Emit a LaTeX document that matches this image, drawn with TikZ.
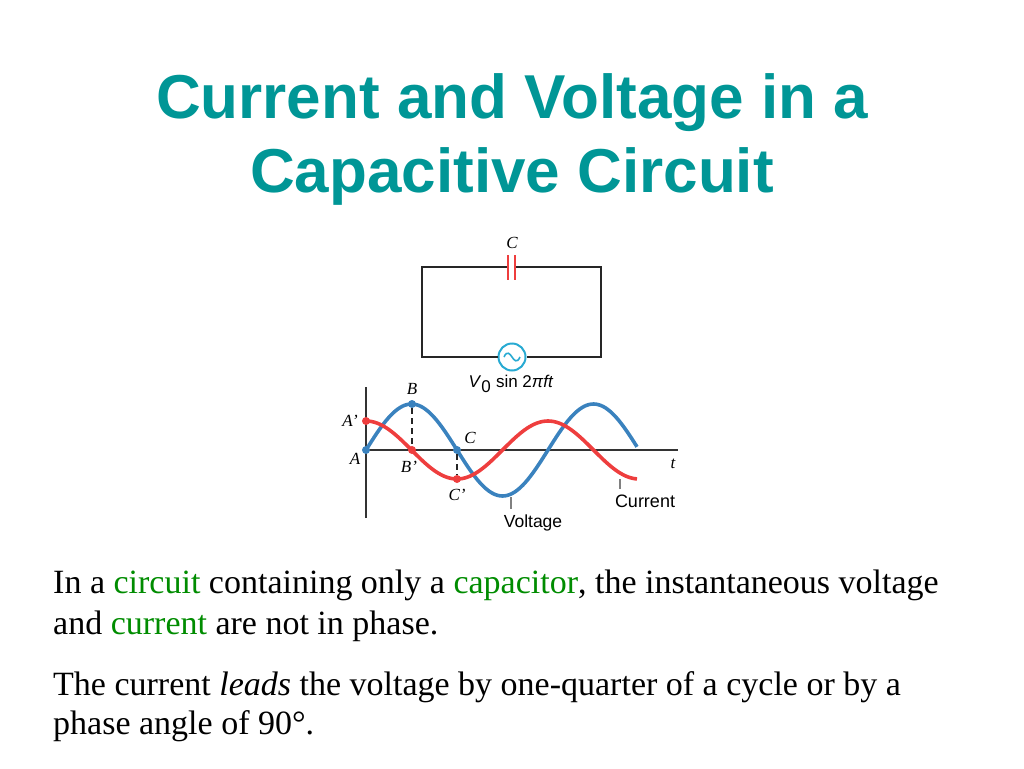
\documentclass[tikz,border=0pt]{standalone}
\usepackage{fontspec}
\setmainfont{Liberation Serif}
\setsansfont{Liberation Sans}
\usetikzlibrary{positioning}
\definecolor{titleteal}{RGB}{0,150,150}
\definecolor{wordgreen}{RGB}{0,140,0}
\definecolor{voltblue}{RGB}{58,130,190}
\definecolor{currred}{RGB}{238,62,62}
\definecolor{srccyan}{RGB}{40,170,210}
\newcommand{\lbl}[1]{\fontsize{17}{19}\selectfont\itshape #1}
\tikzset{
  wire/.style={line width=2.2pt, black!85},
  axis/.style={line width=2.6pt, black!80},
  dot/.style={circle, fill=#1, inner sep=0pt, minimum size=8pt},
  tick/.style={line width=1.2pt, black!50},
}

\begin{document}
\begin{tikzpicture}[x=1pt, y=-1pt]
        \useasboundingbox (0,0) rectangle (1024,768);
        % title
        \node[anchor=base, text=titleteal, font=\sffamily\bfseries\fontsize{62}{74}\selectfont] (T1) at (512,118) {Current and Voltage in a};
        \node[anchor=base, text=titleteal, font=\sffamily\bfseries\fontsize{62}{74}\selectfont] (T2) at (512,192) {Capacitive Circuit};
        % circuit
        \coordinate (LT) at (422,267);
        \coordinate (RT) at (601,267);
        \coordinate (LB) at (422,357);
        \coordinate (RB) at (601,357);
        \coordinate (CL) at (508,267);
        \coordinate (CR) at (515,267);
        \node[circle, draw=srccyan, line width=2pt, minimum size=27pt, inner sep=0pt] (S) at (512,357) {};
        \draw [srccyan, line width=1.6pt] ([xshift=-8pt]S.center) .. controls ([xshift=-5pt,yshift=7pt]S.center) and ([xshift=-2pt,yshift=3pt]S.center) .. (S.center) .. controls ([xshift=2pt,yshift=-3pt]S.center) and ([xshift=5pt,yshift=-7pt]S.center) .. ([xshift=8pt]S.center);
        \draw [wire] (CL) -- (LT) -- (LB) -- (S.west);
        \draw [wire] (CR) -- (RT) -- (RB) -- (S.east);
        \draw [currred, line width=2pt] (508,255) -- (508,280);
        \draw [currred, line width=2pt] (515,255) -- (515,280);
        \node (Clab) at (512,243) {\lbl{C}};
        \node[anchor=base, font=\sffamily\fontsize{17}{19}\selectfont] (Src) at (511,387) {\textit{V}$_{\textsf{0}}$ sin 2\textit{πft}};
        % graph
        \coordinate (O) at (366,450);
        \coordinate (Ytop) at (366,387);
        \coordinate (Ybot) at (366,518);
        \coordinate (Xend) at (678,450);
        \draw [axis] (Ybot) -- (Ytop);
        \draw [axis] (O) -- (Xend);
        \draw [voltblue, line width=3.6pt] plot[domain=0:271, samples=120] ({366+\x},{450-46*sin(\x/182*360)});
        \draw [currred, line width=3.6pt] plot[domain=0:271, samples=120] ({366+\x},{450-29*cos(\x/182*360)});
        \node[dot=voltblue] (A) at (366,450) {};
        \node[dot=voltblue] (B) at (412,404) {};
        \node[dot=voltblue] (C) at (457,450) {};
        \node[dot=currred] (Ap) at (366,421) {};
        \node[dot=currred] (Bp) at (412,450) {};
        \node[dot=currred] (Cp) at (457,479) {};
        \draw [black!85, line width=1.6pt, dash pattern=on 6pt off 4pt] (B) -- (Bp);
        \draw [black!85, line width=1.6pt, dash pattern=on 6pt off 4pt] (C) -- (Cp);
        \node at (412,389) {\lbl{B}};
        \node at (350,421) {\lbl{A'}};
        \node at (355,459) {\lbl{A}};
        \node at (409,467) {\lbl{B'}};
        \node at (470,438) {\lbl{C}};
        \node at (457,495) {\lbl{C'}};
        \node at (673,464) {\lbl{t}};
        \coordinate (Ctick) at (620,479);
        \coordinate (Vtick) at (511,497);
        \node[anchor=base, font=\sffamily\fontsize{18}{20}\selectfont] (Cur) at (645,507) {Current};
        \node[anchor=base, font=\sffamily\fontsize{17.5}{20}\selectfont] (Vol) at (533,527) {Voltage};
        \draw [tick] (Ctick) -- (620,489);
        \draw [tick] (Vtick) -- (511,509);
        % text
        \node[anchor=base west, inner sep=0pt, font=\fontsize{34}{40}\selectfont] (L1) at (53,593) {In a \textcolor{wordgreen}{circuit} containing only a \textcolor{wordgreen}{capacitor}, the instantaneous voltage};
        \node[anchor=base west, inner sep=0pt, font=\fontsize{34}{40}\selectfont] (L2) at (53,634) {and \textcolor{wordgreen}{current} are not in phase.};
        \node[anchor=base west, inner sep=0pt, font=\fontsize{34}{40}\selectfont] (L3) at (53,695) {The current \textit{leads} the voltage by one-quarter of a cycle or by a};
        \node[anchor=base west, inner sep=0pt, font=\fontsize{34}{40}\selectfont] (L4) at (53,734) {phase angle of 90°.};
\end{tikzpicture}
\end{document}
